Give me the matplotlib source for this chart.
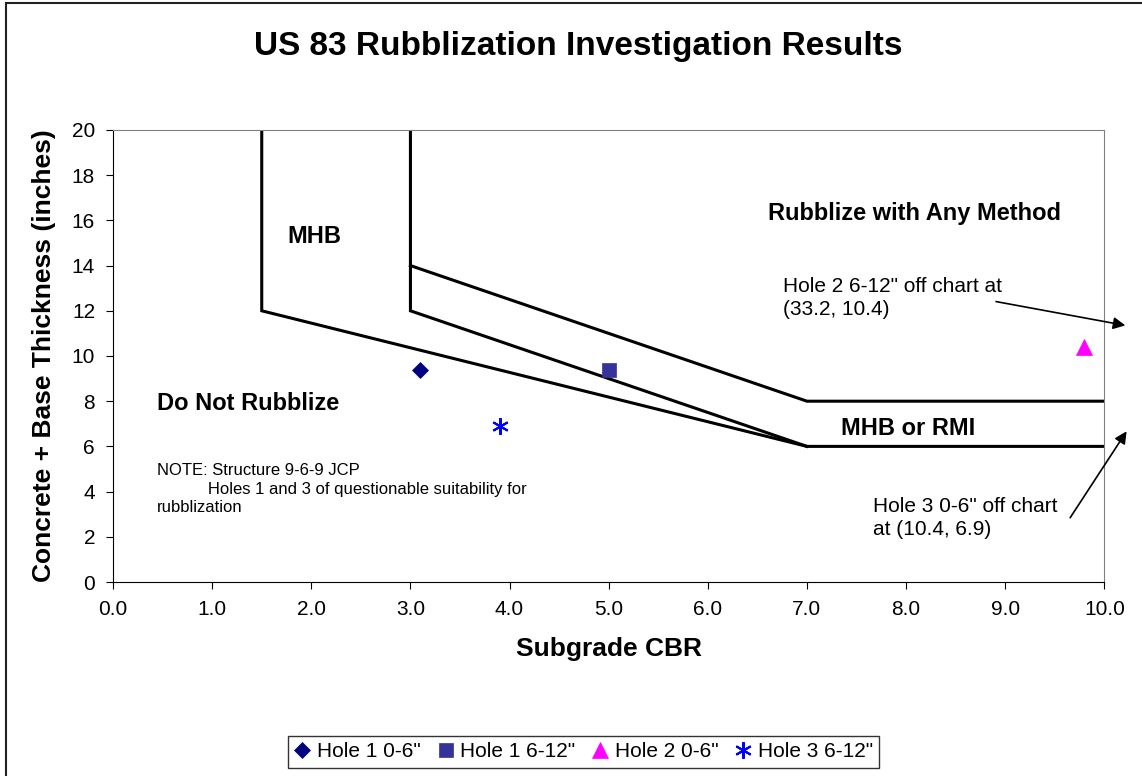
import numpy as np
import matplotlib.pyplot as plt
from matplotlib.patches import Rectangle

plt.rcParams['font.family'] = ['Liberation Sans', 'DejaVu Sans']

# boundary lines of the rubblization zones (CBR, thickness)
line_a_x = [1.5, 1.5, 7.0, 10.0]
line_a_y = [20, 12, 6, 6]
line_b_x = [3.0, 3.0, 7.0]
line_b_y = [20, 12, 6]
line_c_x = [3.0, 7.0, 10.0]
line_c_y = [14, 8, 8]

# measured holes
hole_names = ['Hole 1 0-6"', 'Hole 1 6-12"', 'Hole 2 0-6"', 'Hole 3 6-12"']
hole_cbr = [3.1, 5.0, 9.8, 3.9]
hole_thick = [9.4, 9.4, 10.4, 6.9]
hole_markers = ['D', 's', '^', (6, 2, 0)]
hole_colors = ['#000080', '#333399', '#FF00FF', '#0000FF']
hole_sizes = [8, 10, 11, 12]

xticks = np.arange(0, 11, 1)
yticks = np.arange(0, 21, 2)

fig = plt.figure(figsize=(11.42, 7.76), dpi=100)
ax = fig.add_axes([0.099, 0.25, 0.868, 0.5825])

for xs, ys in [(line_a_x, line_a_y), (line_b_x, line_b_y), (line_c_x, line_c_y)]:
    ax.plot(xs, ys, color='black', lw=2.2, solid_joinstyle='miter')

for name, x, y, m, c, s in zip(hole_names, hole_cbr, hole_thick, hole_markers, hole_colors, hole_sizes):
    ax.plot([x], [y], linestyle='none', marker=m, color=c, markersize=s,
            markeredgewidth=1.5 if m == (6, 2, 0) else 0.5, label=name)

ax.set_xlim(0, 10)
ax.set_ylim(0, 20)
ax.set_xticks(xticks)
ax.set_xticklabels([f'{v:.1f}' for v in xticks])
ax.set_yticks(yticks)
ax.tick_params(labelsize=15, length=5, direction='out', pad=8)
for side in ['top', 'right']:
    ax.spines[side].set_color('#808080')
for side in ['left', 'bottom']:
    ax.spines[side].set_color('black')

ax.set_xlabel('Subgrade CBR', fontsize=19, fontweight='bold', labelpad=13)
ax.set_ylabel('Concrete + Base Thickness (inches)', fontsize=19, fontweight='bold', labelpad=11)
fig.text(0.506, 0.94, 'US 83 Rubblization Investigation Results', ha='center', va='center',
         fontsize=24, fontweight='bold')

# region labels
ax.text(1.76, 15.3, 'MHB', fontsize=17, fontweight='bold', va='center')
ax.text(6.61, 16.3, 'Rubblize with Any Method', fontsize=17, fontweight='bold', va='center')
ax.text(0.44, 7.9, 'Do Not Rubblize', fontsize=17, fontweight='bold', va='center')
ax.text(7.34, 6.8, 'MHB or RMI', fontsize=17, fontweight='bold', va='center')
ax.text(0.44, 4.1, 'NOTE: Structure 9-6-9 JCP\n           Holes 1 and 3 of questionable suitability for\nrubblization',
        fontsize=12, va='center', linespacing=1.3)

# off-chart notes
ax.text(6.76, 12.57, 'Hole 2 6-12" off chart at\n(33.2, 10.4)', fontsize=15, va='center', linespacing=1.3)
ax.text(7.67, 2.83, 'Hole 3 0-6" off chart\nat (10.4, 6.9)', fontsize=15, va='center', linespacing=1.3)
ax.annotate('', xy=(10.24, 11.33), xytext=(8.88, 12.43), annotation_clip=False,
            arrowprops=dict(arrowstyle='-|>', color='black', lw=1.2, mutation_scale=18))
ax.annotate('', xy=(10.24, 6.77), xytext=(9.64, 2.74), annotation_clip=False,
            arrowprops=dict(arrowstyle='-|>', color='black', lw=1.2, mutation_scale=18))

leg = fig.legend(loc='center', bbox_to_anchor=(0.511, 0.031), ncol=4, fontsize=15,
                 frameon=True, fancybox=False, handlelength=0.8, handletextpad=0.3,
                 columnspacing=0.8, borderpad=0.3)
leg.get_frame().set_edgecolor('black')
leg.get_frame().set_linewidth(1.0)

# outer chart border
fig.patches.append(Rectangle((0.0053, -0.05), 1.2, 1.046, transform=fig.transFigure,
                             fill=False, edgecolor='#222222', lw=1.5))

fig.savefig('out.png', dpi=100)
